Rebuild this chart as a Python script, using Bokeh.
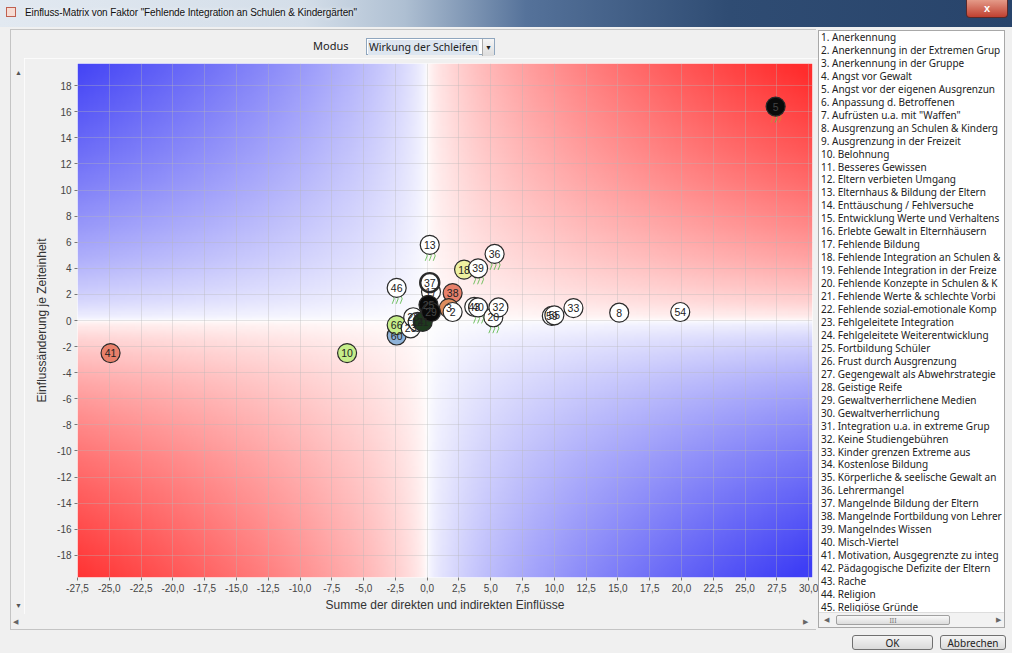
import numpy as np
from bokeh.plotting import figure
from bokeh.models import Div, FixedTicker, Range1d, ColumnDataSource
from bokeh.layouts import column, row
from bokeh.embed import file_html
from bokeh.resources import INLINE
from bokeh.core.properties import value

# ---------------- data ----------------
point_ids = ["41", "10", "60", "66", "23", "28", "14", "21", "13", "46", "17", "37", "38", "3", "2",
             "25", "29", "36", "18", "39", "43", "40", "20", "32", "59", "55", "33", "8", "54", "5"]
point_x = [-24.9, -6.3, -2.4, -2.4, -1.3, -1.1, -0.75, -0.35, 0.2, -2.4, 0.3, 0.2, 2.0, 1.7, 2.0,
           0.1, 0.3, 5.3, 2.9, 4.0, 3.7, 4.0, 5.2, 5.6, 9.8, 10.0, 11.5, 15.1, 19.9, 27.4]
point_y = [-2.5, -2.5, -1.15, -0.35, -0.6, 0.25, -0.1, -0.1, 5.8, 2.5, 2.2, 2.9, 2.1, 0.95, 0.65,
           1.2, 0.65, 5.1, 3.9, 4.0, 1.05, 1.0, 0.25, 1.0, 0.35, 0.4, 0.95, 0.6, 0.65, 16.4]
point_fill = ["#e8806a", "#c6ee8a", "#8fb3d9", "#c6ee8a", "#ffffff", "#ffffff", "#ffffff", "#1e3a1e",
              "#ffffff", "#ffffff", "#ffffff", "#ffffff", "#e8806a", "#dd8c5c", "#ffffff",
              "#0a0a0a", "#0a0a0a", "#ffffff", "#eef0a0", "#ffffff", "#ffffff", "#ffffff", "#ffffff",
              "#ffffff", "#ffffff", "#ffffff", "#ffffff", "#ffffff", "#ffffff", "#0a0a0a"]
trail_ids = ["13", "36", "39", "46", "17", "20", "66", "40", "5"]

x_tick_values = [-27.5, -25.0, -22.5, -20.0, -17.5, -15.0, -12.5, -10.0, -7.5, -5.0, -2.5, 0.0,
                 2.5, 5.0, 7.5, 10.0, 12.5, 15.0, 17.5, 20.0, 22.5, 25.0, 27.5, 30.0]
x_tick_labels = ["-27,5", "-25,0", "-22,5", "-20,0", "-17,5", "-15,0", "-12,5", "-10,0", "-7,5",
                 "-5,0", "-2,5", "0,0", "2,5", "5,0", "7,5", "10,0", "12,5", "15,0", "17,5",
                 "20,0", "22,5", "25,0", "27,5", "30,0"]
y_tick_values = [-18, -16, -14, -12, -10, -8, -6, -4, -2, 0, 2, 4, 6, 8, 10, 12, 14, 16, 18]
y_tick_labels = ["-18", "-16", "-14", "-12", "-10", "-8", "-6", "-4", "-2", "0", "2", "4", "6",
                 "8", "10", "12", "14", "16", "18"]

# list entries as far as the list box shows them
factor_names = [
    "Anerkennung", "Anerkennung in der Extremen Grup", "Anerkennung in der Gruppe",
    "Angst vor Gewalt", "Angst vor der eigenen Ausgrenzun", "Anpassung d. Betroffenen",
    "Aufrüsten u.a. mit \"Waffen\"", "Ausgrenzung an Schulen & Kinderg",
    "Ausgrenzung in der Freizeit", "Belohnung", "Besseres Gewissen", "Eltern verbieten Umgang",
    "Elternhaus & Bildung der Eltern", "Enttäuschung / Fehlversuche",
    "Entwicklung Werte und Verhaltens", "Erlebte Gewalt in Elternhäusern",
    "Fehlende Bildung", "Fehlende Integration an Schulen &",
    "Fehlende Integration in der Freize", "Fehlende Konzepte in Schulen & K",
    "Fehlende Werte & schlechte Vorbi", "Fehlende sozial-emotionale Komp",
    "Fehlgeleitete Integration", "Fehlgeleitete Weiterentwicklung", "Fortbildung Schüler",
    "Frust durch Ausgrenzung", "Gegengewalt als Abwehrstrategie", "Geistige Reife",
    "Gewaltverherrlichene Medien", "Gewaltverherrlichung", "Integration u.a. in  extreme Grup",
    "Keine Studiengebühren", "Kinder grenzen Extreme aus", "Kostenlose Bildung",
    "Körperliche & seelische Gewalt an", "Lehrermangel", "Mangelnde Bildung der Eltern",
    "Mangelnde Fortbildung von Lehrer", "Mangelndes Wissen", "Misch-Viertel",
    "Motivation, Ausgegrenzte zu integ", "Pädagogische Defizite der Eltern", "Rache",
    "Religion", "Religiöse Gründe"]

window_title = 'Einfluss-Matrix von Faktor "Fehlende Integration an Schulen &amp; Kindergärten"'
x_label = "Summe der direkten und indirekten Einflüsse"
y_label = "Einflussänderung je Zeiteinheit"

X0, X1, Y0, Y1 = -27.5, 30.3, -19.7, 19.7
UI_FONT = "'Noto Sans', sans-serif"

# ---------------- figure ----------------
p = figure(width=794, height=556, x_range=Range1d(X0, X1), y_range=Range1d(Y0, Y1),
           output_backend="svg", toolbar_location=None,
           min_border_left=53, min_border_right=6, min_border_top=5, min_border_bottom=36,
           background_fill_color="white", border_fill_color="#f0f0f0", outline_line_color=None)

# background gradient (blue where x*y<0, red where x*y>0)
nx, ny = 360, 240
gx = np.linspace(X0, X1, nx)
gy = np.linspace(Y0, Y1, ny)
GX, GY = np.meshgrid(gx, gy)
t = np.clip(((np.abs(GX) / 29.0) * (np.abs(GY) / 19.7)) ** 0.6, 0, 1)
sign = np.sign(GX * GY)
blue = np.array([62, 62, 245], dtype=float)
red = np.array([255, 45, 45], dtype=float)
white = np.array([255, 255, 255], dtype=float)
rgb = np.where((sign > 0)[..., None], red, blue)
col = white * (1 - t[..., None]) + rgb * t[..., None]
img = np.empty((ny, nx), dtype=np.uint32)
view = img.view(dtype=np.uint8).reshape((ny, nx, 4))
view[..., 0] = col[..., 0].astype(np.uint8)
view[..., 1] = col[..., 1].astype(np.uint8)
view[..., 2] = col[..., 2].astype(np.uint8)
view[..., 3] = 255
bg = p.image_rgba(image=[img], x=X0, y=Y0, dw=X1 - X0, dh=Y1 - Y0)
bg.level = "image"

p.grid.grid_line_color = "#b8b8b8"
p.grid.grid_line_alpha = 0.35
p.xgrid.ticker = FixedTicker(ticks=x_tick_values)
p.ygrid.ticker = FixedTicker(ticks=y_tick_values)

p.xaxis.ticker = FixedTicker(ticks=x_tick_values)
p.yaxis.ticker = FixedTicker(ticks=y_tick_values)
p.xaxis.major_label_overrides = {v: s for v, s in zip(x_tick_values, x_tick_labels)}
p.yaxis.major_label_overrides = {v: s for v, s in zip(y_tick_values, y_tick_labels)}
for ax in (p.xaxis[0], p.yaxis[0]):
    ax.axis_line_color = None
    ax.major_tick_line_color = "#777777"
    ax.major_tick_out = 3
    ax.major_tick_in = 0
    ax.minor_tick_line_color = None
    ax.major_label_text_font = "Liberation Sans"
    ax.major_label_text_font_size = "10px"
    ax.major_label_text_color = "#444444"
    ax.major_label_standoff = 3
    ax.axis_label_text_font = "Liberation Sans"
    ax.axis_label_text_font_size = "12px"
    ax.axis_label_text_font_style = "normal"
    ax.axis_label_text_color = "#333333"
    ax.axis_label_standoff = 3
p.xaxis.axis_label = x_label
p.yaxis.axis_label = y_label
p.yaxis.axis_label_standoff = 5

# trails (little green tails under some bubbles)
PXX = 735.0 / (X1 - X0)
PXY = 515.0 / (Y1 - Y0)
trail_xs, trail_ys, trail_col = [], [], []
for tid in trail_ids:
    i = point_ids.index(tid)
    cx, cy = point_x[i], point_y[i]
    for k, dx in enumerate((-4, 0, 4)):
        trail_xs.append([cx + dx / PXX, cx + (dx + 1.5) / PXX, cx + (dx - 0.5) / PXX])
        trail_ys.append([cy - 7 / PXY, cy - 11 / PXY, cy - 16 / PXY])
        trail_col.append("#d08a30" if (tid == "5" and k != 1) else "#5cb84a")
p.multi_line(xs=trail_xs, ys=trail_ys, line_color=trail_col, line_width=1, line_alpha=0.85)

label_col = ["#444444" if f == "#0a0a0a" else "#222222" for f in point_fill]
line_w = [2.4 if pid == "37" else 1.2 for pid in point_ids]
src = ColumnDataSource(dict(x=point_x, y=point_y, id=point_ids, fill=point_fill,
                            lc=label_col, lw=line_w))
p.scatter("x", "y", source=src, marker="circle", size=19, fill_color="fill",
          line_color="#2a2a2a", line_width="lw")
p.text("x", "y", text="id", source=src, text_align="center", text_baseline="middle",
       text_font=value("Liberation Sans"), text_font_size="10.5px", text_color="lc")

# ---------------- window chrome ----------------
title_div = Div(width=1012, height=30, margin=0, text=f"""
<div style="position:relative;width:1012px;height:30px;background:#f0f0f0;overflow:hidden">
<div style="position:absolute;left:0;top:0;width:1012px;height:27px;font-family:'Liberation Sans',sans-serif;font-size:10px;letter-spacing:-0.1px;color:#111;
background:linear-gradient(to right,#e2e9f1 0%,#d4dee9 30%,#aebfd2 40%,#55729a 52%,#2f4c73 72%,#28446b 100%);">
<div style="position:absolute;left:6px;top:7px;width:10px;height:10px;background:#f6dcd4;border:1px solid #c06050"></div>
<div style="position:absolute;left:25px;top:6px;white-space:nowrap;line-height:14px;text-shadow:0 0 5px #fff">{window_title}</div>
<div style="position:absolute;left:966px;top:0;width:42px;height:18px;background:linear-gradient(#e49a88,#c04030);border:1px solid #5a2a2a;border-top:none;border-radius:0 0 4px 4px;color:#fff;font-weight:bold;font-size:11px;text-align:center;line-height:16px">x</div>
</div>
<div style="position:absolute;left:10px;top:29px;width:806px;height:1px;background:#c4c4c4"></div>
</div>""")

modus_div = Div(width=818, height=28, margin=0, text=f"""
<div style="position:relative;width:818px;height:28px;background:#f0f0f0;font-family:{UI_FONT};font-size:11px;color:#222">
<div style="position:absolute;left:10px;top:0;width:1px;height:28px;background:#c4c4c4"></div>
<span style="position:absolute;left:313px;top:9px;line-height:14px">Modus</span>
<div style="position:absolute;left:366px;top:8px;width:129px;height:17px;border:1px solid #8fa6be;background:#fff">
<span style="position:absolute;left:1px;top:1px;line-height:15px;font-size:10.5px;background:#dde6f0;padding:0 1px;white-space:nowrap">Wirkung der Schleifen</span>
<div style="position:absolute;right:0;top:0;width:12px;height:17px;border-left:1px solid #aaa;background:linear-gradient(#f6f6f6,#dcdcdc);font-size:7px;text-align:center;line-height:17px">&#9660;</div>
</div></div>""")

side_div = Div(width=24, height=556, margin=0, text="""
<div style="position:relative;width:24px;height:556px;background:#f0f0f0;font-size:7px;color:#555">
<div style="position:absolute;left:10px;top:0;width:1px;height:556px;background:#c4c4c4"></div>
<span style="position:absolute;left:15px;top:10px">&#9650;</span>
<span style="position:absolute;left:15px;top:543px">&#9660;</span>
</div>""")

hscroll_div = Div(width=818, height=16, margin=0, text="""
<div style="position:relative;width:818px;height:16px;background:#f0f0f0;font-size:7px;color:#666">
<div style="position:absolute;left:10px;top:0;width:1px;height:15px;background:#c4c4c4"></div>
<div style="position:absolute;left:10px;top:15px;width:806px;height:1px;background:#c4c4c4"></div>
<span style="position:absolute;left:13px;top:3px">&#9664;</span>
<span style="position:absolute;left:803px;top:3px">&#9654;</span>
</div>""")

items = "<br>".join(f"{i + 1}. {n}".replace("&", "&amp;") for i, n in enumerate(factor_names))
list_div = Div(width=194, height=600, margin=0, text=f"""
<div style="position:relative;width:194px;height:600px;background:#f0f0f0;font-family:{UI_FONT};font-size:10px;color:#222">
<div style="position:absolute;left:0;top:0;width:187px;height:598px;background:#fff;border:1px solid #a8a8a8;overflow:hidden">
<div style="white-space:nowrap;line-height:12.95px;padding-left:2px;padding-top:0px">{items}</div>
<div style="position:absolute;left:0;bottom:0;width:187px;height:15px;background:#f2f2f2;border-top:1px solid #ddd">
<span style="position:absolute;left:5px;top:2px;font-size:7px;color:#666">&#9664;</span>
<div style="position:absolute;left:17px;top:2px;width:114px;height:10px;border:1px solid #a0a0a0;border-radius:2px;background:linear-gradient(#f8f8f8,#dcdcdc);font-size:7px;text-align:center;line-height:10px;color:#777">III</div>
<span style="position:absolute;right:5px;top:2px;font-size:7px;color:#666">&#9654;</span>
</div></div></div>""")

buttons_div = Div(width=1012, height=23, margin=0, text=f"""
<div style="position:relative;width:1012px;height:23px;background:#f0f0f0;font-family:{UI_FONT};font-size:10px;color:#222">
<div style="position:absolute;left:852px;top:5px;width:81px;height:15px;border:1px solid #707070;border-radius:3px;background:linear-gradient(#f4f4f4,#dadada);text-align:center;line-height:15px">OK</div>
<div style="position:absolute;left:940px;top:5px;width:66px;height:15px;border:1px solid #707070;border-radius:3px;background:linear-gradient(#f4f4f4,#dadada);text-align:center;line-height:15px">Abbrechen</div>
</div>""")

plot_row = row(side_div, p, spacing=0)
left = column(modus_div, plot_row, hscroll_div, spacing=0)
body = row(left, list_div, spacing=0)
page = column(title_div, body, buttons_div, spacing=0)

with open("out.html", "w") as f:
    f.write(file_html(page, INLINE))
